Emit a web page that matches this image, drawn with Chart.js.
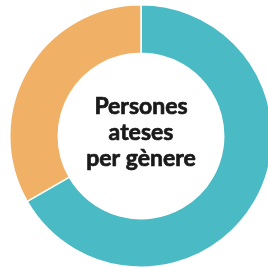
<!DOCTYPE html>
<html>
<head>
<meta charset="utf-8">
<script src="https://cdn.jsdelivr.net/npm/chart.js@4"></script>
<style>
    html, body { margin: 0; padding: 0; background: #ffffff; overflow: hidden; width: 268px; height: 268px; }
    #wrap { position: absolute; left: 9px; top: 4px; width: 264px; height: 264px; }
</style>
</head>
<body>
<div id="wrap"><canvas id="genderChart"></canvas></div>
<script>
const categories = ["Dones", "Homes"];
const values = [66.7, 33.3];
const sliceColors = ["#4abbc4", "#f0b066"];
const centerLines = ["Persones", "ateses", "per gènere"];

// heavy centred title drawn inside the hole
const centerText = {
    id: "centerText",
    afterDraw(chart) {
        const ctx = chart.ctx;
        const arc = chart.getDatasetMeta(0).data[0];
        ctx.save();
        ctx.fillStyle = "#1a1a1a";
        ctx.strokeStyle = "#1a1a1a";
        ctx.lineWidth = 0.7;
        ctx.lineJoin = "round";
        ctx.font = "bold 23px Lato";
        ctx.textAlign = "center";
        ctx.textBaseline = "alphabetic";
        const lineHeight = 26;
        centerLines.forEach((line, i) => {
            const y = arc.y - 22 + i * lineHeight;
            ctx.fillText(line, arc.x, y);
            ctx.strokeText(line, arc.x, y);
        });
        ctx.restore();
    }
};

document.addEventListener("DOMContentLoaded", () => {
    const ctx = document.getElementById("genderChart").getContext("2d");
    new Chart(ctx, {
        type: "doughnut",
        data: {
            labels: categories,
            datasets: [{
                data: values,
                backgroundColor: sliceColors,
                borderColor: "#ffffff",
                borderWidth: 1.5
            }]
        },
        options: {
            responsive: true,
            maintainAspectRatio: false,
            animation: false,
            cutout: "63%",
            layout: { padding: 0 },
            plugins: {
                legend: { display: false },
                tooltip: { enabled: false }
            }
        },
        plugins: [centerText]
    });
});
</script>
</body>
</html>
